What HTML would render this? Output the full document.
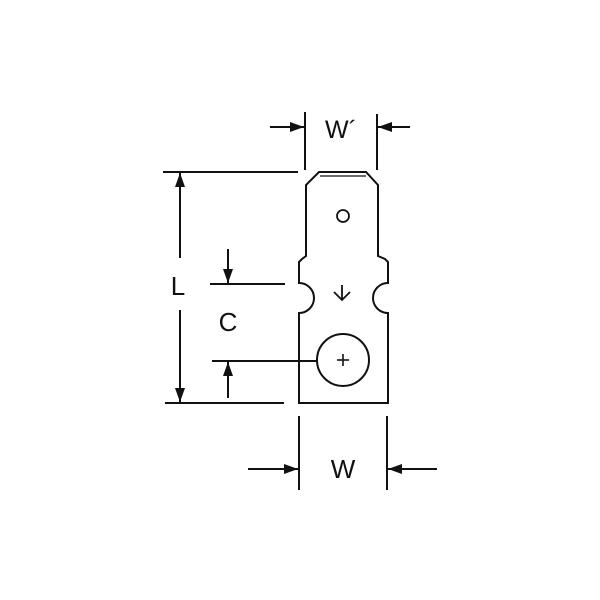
<!DOCTYPE html>
<html><head><meta charset="utf-8"><style>
html,body{margin:0;padding:0;background:#fff;}
svg{display:block;}
text{font-family:"Liberation Sans",sans-serif;fill:#111;}
</style></head><body>
<svg width="600" height="600" viewBox="0 0 600 600" xmlns="http://www.w3.org/2000/svg">
<defs>
<marker id="ar" markerWidth="14" markerHeight="10" refX="14" refY="5" orient="auto" markerUnits="userSpaceOnUse">
<path d="M0,0 L14,5 L0,10 Z" fill="#111"/>
</marker>
</defs>
<g stroke="#111" stroke-width="2" fill="none">
<path d="M319,172 L366,172 L378,185 L378,256 L385,259 L388,262 L388,283 A12,12 0 0 0 388,313 L388,403 L299,403 L299,313 A12,12 0 0 0 299,283 L299,262 L302,259 L306,256 L306,185 L319,172 Z"/>
<line x1="320" y1="176" x2="366" y2="176" stroke-width="1.2"/>
<circle cx="343" cy="216" r="6" stroke-width="1.8"/>
<line x1="342" y1="285" x2="342" y2="300" stroke-width="1.8"/>
<path d="M334,292 L342,300 L350,292" stroke-width="1.8"/>
<circle cx="343" cy="360" r="26"/>
<line x1="337" y1="360" x2="349" y2="360" stroke-width="1.6"/>
<line x1="343" y1="354" x2="343" y2="366" stroke-width="1.6"/>
<line x1="305" y1="112" x2="305" y2="170"/>
<line x1="377" y1="114" x2="377" y2="170"/>
<line x1="270" y1="127" x2="304" y2="127" marker-end="url(#ar)"/>
<line x1="410" y1="127" x2="378" y2="127" marker-end="url(#ar)"/>
<line x1="163" y1="172" x2="298" y2="172"/>
<line x1="165" y1="403" x2="284" y2="403"/>
<line x1="180" y1="258" x2="180" y2="173" marker-end="url(#ar)"/>
<line x1="180" y1="310" x2="180" y2="402" marker-end="url(#ar)"/>
<line x1="210" y1="284" x2="285" y2="284"/>
<line x1="212" y1="361" x2="317" y2="361"/>
<line x1="228" y1="249" x2="228" y2="283" marker-end="url(#ar)"/>
<line x1="228" y1="398" x2="228" y2="362" marker-end="url(#ar)"/>
<line x1="299" y1="416" x2="299" y2="490"/>
<line x1="387" y1="416" x2="387" y2="490"/>
<line x1="248" y1="469" x2="298" y2="469" marker-end="url(#ar)"/>
<line x1="437" y1="469" x2="388" y2="469" marker-end="url(#ar)"/>
</g>
<text x="341" y="138" font-size="25" text-anchor="middle">W´</text>
<text x="178" y="295" font-size="26" text-anchor="middle">L</text>
<text x="228" y="331" font-size="26" text-anchor="middle">C</text>
<text x="343" y="478" font-size="26" text-anchor="middle">W</text>
</svg>
</body></html>
